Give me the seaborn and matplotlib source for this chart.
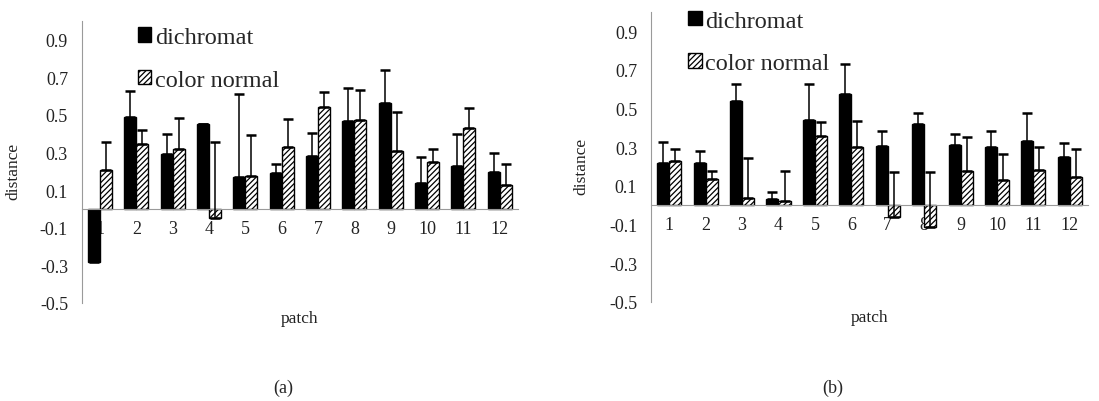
import numpy as np
import pandas as pd
import matplotlib
matplotlib.use('Agg')
import matplotlib.pyplot as plt
import seaborn as sns
from matplotlib.patches import Patch

# data
patches = [str(i) for i in range(1, 13)]

# (a)
dichromat_a = [-0.28, 0.49, 0.29, 0.45, 0.17, 0.19, 0.28, 0.47, 0.565, 0.14, 0.23, 0.195]
dichromat_a_err = [0.10, 0.14, 0.11, 0.0, 0.44, 0.05, 0.125, 0.175, 0.175, 0.135, 0.17, 0.105]
normal_a = [0.21, 0.345, 0.32, -0.05, 0.175, 0.33, 0.545, 0.475, 0.31, 0.25, 0.43, 0.13]
normal_a_err = [0.145, 0.075, 0.165, 0.405, 0.22, 0.15, 0.075, 0.16, 0.205, 0.067, 0.105, 0.11]

# (b)
dichromat_b = [0.22, 0.22, 0.54, 0.035, 0.44, 0.575, 0.305, 0.42, 0.31, 0.30, 0.335, 0.25]
dichromat_b_err = [0.11, 0.06, 0.085, 0.035, 0.185, 0.155, 0.08, 0.058, 0.06, 0.085, 0.143, 0.07]
normal_b = [0.23, 0.135, 0.04, 0.02, 0.36, 0.30, -0.06, -0.11, 0.18, 0.13, 0.185, 0.145]
normal_b_err = [0.06, 0.045, 0.205, 0.16, 0.07, 0.135, 0.23, 0.28, 0.175, 0.135, 0.115, 0.145]

groups = ['dichromat', 'color normal']
yticks = [-0.5, -0.3, -0.1, 0.1, 0.3, 0.5, 0.7, 0.9]
ytick_labels = ['-0.5', '-0.3', '-0.1', '0.1', '0.3', '0.5', '0.7', '0.9']

sns.set_style('white')
plt.rcParams['font.family'] = ['Liberation Serif', 'DejaVu Serif']
plt.rcParams['hatch.linewidth'] = 0.9

fig = plt.figure(figsize=(10.99, 4.02), dpi=100)
ax_a = fig.add_axes([0.0746, 0.2438, 0.3967, 0.7015])
ax_b = fig.add_axes([0.5924, 0.2463, 0.3976, 0.7214])

grey = '#9a9a9a'
hatch = '//////'


def draw(ax, d_vals, d_err, n_vals, n_err, leg_anchor, tag, tag_x):
    df = pd.DataFrame({
        'patch': patches * 2,
        'distance': d_vals + n_vals,
        'group': [groups[0]] * 12 + [groups[1]] * 12,
    })
    sns.barplot(data=df, x='patch', y='distance', hue='group', order=patches,
                hue_order=groups, palette=['black', 'white'], width=0.66, gap=0,
                edgecolor='black', linewidth=1, errorbar=None, legend=False,
                saturation=1, ax=ax)
    for bar in ax.containers[1]:
        bar.set_hatch(hatch)
        bar.set_facecolor('white')
        bar.set_edgecolor('black')

    # plus-only error bars from each bar top
    for cont, errs in zip(list(ax.containers), [d_err, n_err]):
        xs = [b.get_x() + b.get_width() / 2 for b in cont]
        ys = [b.get_y() + b.get_height() for b in cont]
        ax.errorbar(xs, ys, yerr=[np.zeros(len(errs)), errs], fmt='none',
                    ecolor='black', elinewidth=1.1, capsize=3.6, capthick=1.8, zorder=5)

    ax.set_ylim(-0.5, 1.0)
    ax.set_xlim(-0.5, 11.5)
    ax.set_yticks(yticks)
    ax.set_yticklabels(ytick_labels)
    ax.set_xticks(range(12))
    ax.set_xticklabels(patches)
    ax.set_xticks(np.arange(-0.5, 12, 1), minor=True)
    ax.tick_params(axis='x', which='major', length=0, pad=8, labelsize=13, colors='#222')
    ax.tick_params(axis='x', which='minor', length=4, width=0.8, color=grey, direction='out')
    ax.tick_params(axis='y', length=5, width=0.8, color=grey, labelsize=13,
                   labelcolor='#222', pad=5)

    for s in ['top', 'right']:
        ax.spines[s].set_visible(False)
    ax.spines['left'].set_color(grey)
    ax.spines['bottom'].set_color(grey)
    ax.spines['left'].set_linewidth(0.8)
    ax.spines['bottom'].set_linewidth(0.8)
    ax.spines['bottom'].set_position(('data', 0))

    ax.set_ylabel('distance', fontsize=12.5, color='#222')
    ax.yaxis.set_label_coords(-0.14, 0.47)
    ax.set_xlabel('patch', fontsize=12.5, color='#222')
    ax.xaxis.set_label_coords(0.5, -0.025)

    handles = [Patch(facecolor='black', edgecolor='black'),
               Patch(facecolor='white', edgecolor='black', hatch=hatch)]
    ax.legend(handles, groups, loc='upper left', bbox_to_anchor=leg_anchor,
              frameon=False, fontsize=17.5, handlelength=0.55, handleheight=0.55,
              handletextpad=0.15, labelspacing=0.88, borderpad=0, borderaxespad=0)

    fig.text(tag_x, 1 - 388 / 402, tag, ha='center', va='center', fontsize=13)


draw(ax_a, dichromat_a, dichromat_a_err, normal_a, normal_a_err,
     (0.128, 0.978), '(a)', 283 / 1099)
draw(ax_b, dichromat_b, dichromat_b_err, normal_b, normal_b_err,
     (0.085, 1.005), '(b)', 833 / 1099)

fig.savefig('out.png', dpi=100)
